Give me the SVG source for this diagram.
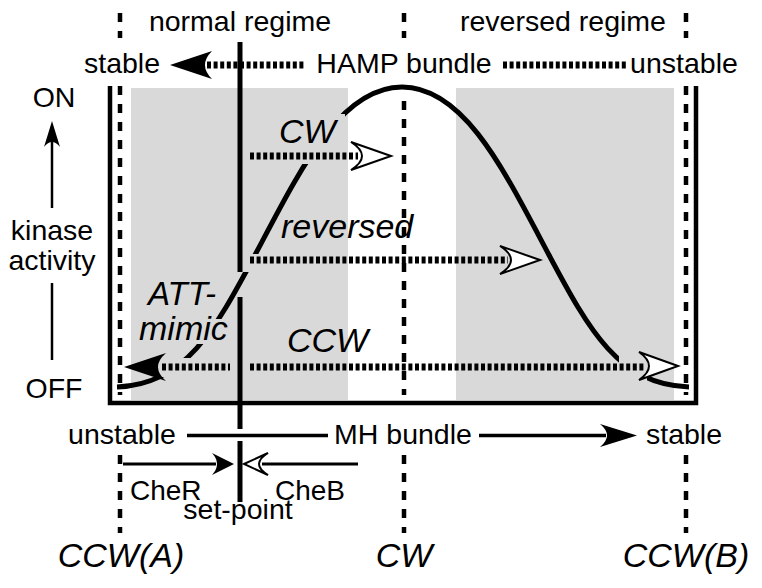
<svg xmlns="http://www.w3.org/2000/svg" width="762" height="588" viewBox="0 0 762 588">
<style>
text{font-family:"Liberation Sans",Arial,Helvetica,sans-serif;fill:#000}
.t{font-size:28.5px}
.s{font-size:28px}
.i{font-size:34px;font-style:italic}
.b{font-size:34px;font-style:italic}
.dash{stroke:#000;stroke-width:4.5;stroke-dasharray:9 9;fill:none}
.dot{stroke:#000;stroke-width:7;stroke-dasharray:4 2.6;fill:none}
.sol{stroke:#000;fill:none}
.ah{fill:#000;stroke:none}
.oh{fill:#fff;stroke:#000;stroke-width:2;stroke-linejoin:miter}
</style>
<defs>
<mask id="gaps" maskUnits="userSpaceOnUse" x="0" y="0" width="762" height="588">
<rect x="0" y="0" width="762" height="588" fill="#fff"/>
<rect x="150" y="358" width="50" height="19" fill="#000"/>
<rect x="195" y="319" width="30" height="25" fill="#000"/>
<rect x="230" y="254" width="40" height="18" fill="#000"/>
<rect x="295" y="114" width="50" height="50" fill="#000"/>
<rect x="619" y="340" width="28" height="55" fill="#000"/>
</mask>
</defs>
<rect width="762" height="588" fill="#fff"/>
<g id="background">
<rect x="131" y="88" width="217" height="312" fill="#d9d9d9"/>
<rect x="456" y="88" width="218" height="312" fill="#d9d9d9"/>
<polyline points="110,86 110,403 696,403 696,86" class="sol" stroke-width="4.5"/>
</g>
<g id="regime-lines">
<line x1="120" y1="13" x2="120" y2="38" class="dash" stroke-dasharray="8 8"/>
<line x1="404" y1="13" x2="404" y2="38" class="dash" stroke-dasharray="8 8"/>
<line x1="686" y1="13" x2="686" y2="38" class="dash" stroke-dasharray="8 8"/>
<line x1="120" y1="86" x2="120" y2="395" class="dash"/>
<line x1="404" y1="101" x2="404" y2="395" class="dash"/>
<line x1="686" y1="86" x2="686" y2="395" class="dash"/>
<line x1="120" y1="455" x2="120" y2="533" class="dash"/>
<line x1="404" y1="455" x2="404" y2="533" class="dash"/>
<line x1="686" y1="455" x2="686" y2="533" class="dash"/>
</g>
<g id="set-point-line">
<line x1="240" y1="42" x2="240" y2="272" class="sol" stroke-width="5"/>
<line x1="240" y1="297" x2="240" y2="429" class="sol" stroke-width="5"/>
<line x1="240" y1="441" x2="240" y2="502" class="sol" stroke-width="5"/>
</g>
<g id="activity-curve">
<path d="M117,387 C185,385 215,330 255,255 C300,170 340,87 402,87 C464,87 504,170 549,255 C589,330 619,385 689,387" class="sol" stroke-width="5" mask="url(#gaps)"/>
</g>
<g id="connectors">
<line x1="207" y1="65" x2="306" y2="65" class="dot"/>
<path d="M170,65 L212,51 Q198,65 212,79 Z" class="ah"/>
<line x1="503" y1="65" x2="626" y2="65" class="dot"/>
<line x1="250" y1="156" x2="358" y2="156" class="dot"/>
<path d="M391,156 L351,142 Q373,156 351,170 Z" class="oh"/>
<line x1="250" y1="260" x2="508" y2="260" class="dot"/>
<path d="M540,260 L500,246 Q522,260 500,274 Z" class="oh"/>
<line x1="162" y1="367" x2="230" y2="367" class="dot"/>
<line x1="250" y1="367" x2="645" y2="367" class="dot"/>
<path d="M124,367 L166,353 Q150,367 166,381 Z" class="ah"/>
<path d="M678,366 L639,352 Q659,366 639,380 Z" class="oh"/>
<line x1="52" y1="140" x2="52" y2="208" class="sol" stroke-width="2.5"/>
<path d="M52,121 L44,147 Q52,137 60,147 Z" class="ah"/>
<line x1="52" y1="283" x2="52" y2="360" class="sol" stroke-width="2.5"/>
<line x1="187" y1="435.5" x2="328" y2="435.5" class="sol" stroke-width="3.5"/>
<line x1="479" y1="435.5" x2="606" y2="435.5" class="sol" stroke-width="3.5"/>
<path d="M637,435.5 L600,424 Q614,435.5 600,447 Z" class="ah"/>
<line x1="123" y1="464" x2="216" y2="464" class="sol" stroke-width="3"/>
<path d="M234,464 L212,453 Q222,464 212,475 Z" class="ah"/>
<line x1="262" y1="464" x2="358" y2="464" class="sol" stroke-width="3"/>
<path d="M244,464 L268,453 Q250,464 268,475 Z" class="oh" stroke-width="1.5"/>
</g>
<g id="top-labels">
<text x="240" y="31" class="t" text-anchor="middle">normal regime</text>
<text x="563" y="31" class="t" text-anchor="middle">reversed regime</text>
<text x="122" y="73" class="t" text-anchor="middle">stable</text>
<text x="404" y="73" class="t" text-anchor="middle">HAMP bundle</text>
<text x="684" y="73" class="t" text-anchor="middle">unstable</text>
</g>
<g id="axis-labels">
<text x="54" y="107" class="t" text-anchor="middle">ON</text>
<text x="52" y="240" class="t" text-anchor="middle">kinase</text>
<text x="52" y="270" class="t" text-anchor="middle">activity</text>
<text x="54" y="398" class="t" text-anchor="middle">OFF</text>
</g>
<g id="inner-labels">
<text x="279" y="143" class="i">CW</text>
<text x="281" y="238" class="i">reversed</text>
<text x="148" y="305" class="i" textLength="68" lengthAdjust="spacingAndGlyphs">ATT-</text>
<text x="139" y="340" class="i">mimic</text>
<text x="287" y="352" class="i">CCW</text>
</g>
<g id="bottom-labels">
<text x="122" y="444" class="t" text-anchor="middle">unstable</text>
<text x="403" y="444" class="t" text-anchor="middle">MH bundle</text>
<text x="684" y="444" class="t" text-anchor="middle">stable</text>
<text x="130" y="500" class="s">CheR</text>
<text x="275" y="500" class="s">CheB</text>
<text x="238" y="519" class="t" text-anchor="middle">set-point</text>
<text x="121" y="567" class="b" text-anchor="middle">CCW(A)</text>
<text x="404" y="567" class="b" text-anchor="middle">CW</text>
<text x="686" y="567" class="b" text-anchor="middle">CCW(B)</text>
</g>
</svg>
